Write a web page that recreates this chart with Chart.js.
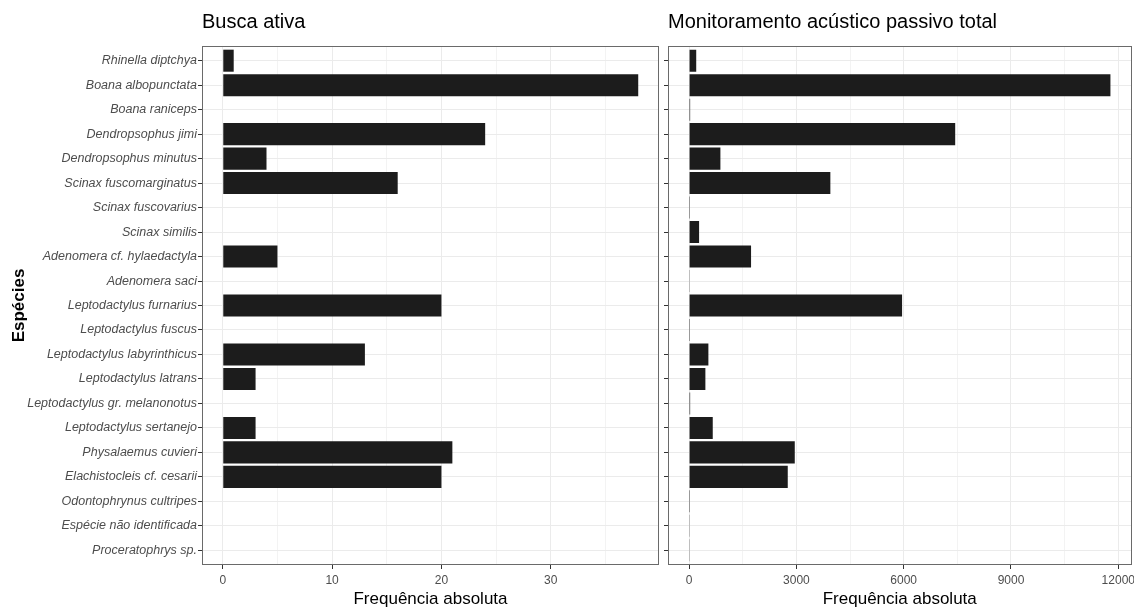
<!DOCTYPE html>
<html>
<head>
<meta charset="utf-8">
<script src="https://cdn.jsdelivr.net/npm/chart.js@4/dist/chart.umd.min.js"></script>
<style>
  html, body { margin: 0; padding: 0; background: #ffffff; }
  #wrap { position: relative; width: 1134px; height: 610px; overflow: hidden; }
  canvas { position: absolute; top: 0; }
  #busca { left: 0; }
  #pam { left: 660px; }
</style>
</head>
<body>
<div id="wrap">
  <canvas id="busca" width="660" height="610"></canvas>
  <canvas id="pam" width="474" height="610"></canvas>
</div>
<script>
// Species, top to bottom
const especies = [
  'Rhinella diptchya',
  'Boana albopunctata',
  'Boana raniceps',
  'Dendropsophus jimi',
  'Dendropsophus minutus',
  'Scinax fuscomarginatus',
  'Scinax fuscovarius',
  'Scinax similis',
  'Adenomera cf. hylaedactyla',
  'Adenomera saci',
  'Leptodactylus furnarius',
  'Leptodactylus fuscus',
  'Leptodactylus labyrinthicus',
  'Leptodactylus latrans',
  'Leptodactylus gr. melanonotus',
  'Leptodactylus sertanejo',
  'Physalaemus cuvieri',
  'Elachistocleis cf. cesarii',
  'Odontophrynus cultripes',
  'Espécie não identificada',
  'Proceratophrys sp.'
];

// Absolute frequency, active search
const buscaAtiva = [1, 38, 0, 24, 4, 16, 0, 0, 5, 0, 20, 0, 13, 3, 0, 3, 21, 20, 0, 0, 0];

// Absolute frequency, total passive acoustic monitoring
const monitoramentoPassivo = [200, 11780, 30, 7440, 876, 3950, 25, 280, 1733, 20, 5955, 25, 540, 456, 30, 662, 2955, 2759, 25, 20, 20];

// Axis ticks: minor step and labelled (major) step
const ticksBusca = [5, 10];
const ticksPassivo = [1500, 3000];

const FONT = "'Liberation Sans', Arial, Helvetica, sans-serif";

// Category axis with a 0.6-band margin at both ends instead of 0.5
class PaddedCategoryScale extends Chart.CategoryScale {
  buildTicks() {
    const ticks = super.buildTicks();
    this._startValue -= 0.1;
    this._valueRange += 0.2;
    return ticks;
  }
}
PaddedCategoryScale.id = 'paddedCategory';
PaddedCategoryScale.defaults = Chart.CategoryScale.defaults;
Chart.register(PaddedCategoryScale);

// Expand the value range by 5% on each side
function expanded(values) {
  const lo = Math.min(0, ...values);
  const hi = Math.max(...values);
  const pad = (hi - lo) * 0.05;
  return [lo - pad, hi + pad];
}

const panelBorder = {
  id: 'panelBorder',
  afterDraw(chart) {
    const a = chart.chartArea;
    const ctx = chart.ctx;
    ctx.save();
    ctx.strokeStyle = '#6a6a6a';
    ctx.lineWidth = 1;
    ctx.strokeRect(Math.round(a.left) + 0.5, Math.round(a.top) + 0.5,
                   Math.round(a.right - a.left) - 1, Math.round(a.bottom - a.top) - 1);
    ctx.restore();
  }
};

function panel(canvasId, title, values, steps, withLabels, yWidth, padRight) {
  const [minX, maxX] = expanded(values);
  const [minor, major] = steps;
  const isMajor = v => Math.abs(v % major) < 1e-6;
  return new Chart(document.getElementById(canvasId), {
    type: 'bar',
    data: {
      labels: especies,
      datasets: [{
        data: values,
        backgroundColor: '#1c1c1c',
        borderWidth: 0,
        categoryPercentage: 0.9,
        barPercentage: 1.0
      }]
    },
    options: {
      indexAxis: 'y',
      responsive: false,
      animation: false,
      layout: { padding: { left: 0, right: padRight, top: 0, bottom: 0 } },
      plugins: {
        legend: { display: false },
        tooltip: { enabled: false },
        title: {
          display: true,
          text: title,
          align: 'start',
          fullSize: false,
          color: '#000000',
          font: { family: FONT, size: 20, weight: 'normal' },
          padding: { top: 10, bottom: 12 }
        }
      },
      scales: {
        x: {
          type: 'linear',
          min: minX,
          max: maxX,
          border: { display: false },
          grid: {
            color: ctx => (ctx.tick && isMajor(ctx.tick.value)) ? '#ebebeb' : '#f3f3f3',
            tickColor: ctx => (ctx.tick && isMajor(ctx.tick.value)) ? '#333333' : 'rgba(0,0,0,0)',
            tickLength: 4,
            drawTicks: true
          },
          afterBuildTicks(s) {
            const ticks = [];
            for (let v = Math.ceil(s.min / minor) * minor; v <= s.max; v += minor) {
              ticks.push({ value: v });
            }
            s.ticks = ticks;
          },
          ticks: {
            autoSkip: false,
            maxRotation: 0,
            color: '#4d4d4d',
            padding: 4,
            font: { family: FONT, size: 12 },
            callback: v => isMajor(v) ? String(Math.round(v)) : ''
          },
          title: {
            display: true,
            text: 'Frequência absoluta',
            color: '#000000',
            font: { family: FONT, size: 17 },
            padding: { top: 2, bottom: 0 }
          },
          afterFit(s) {
            s.height = 45;
            s.paddingLeft = 0;
            s.paddingRight = 0;
          }
        },
        y: {
          type: 'paddedCategory',
          offset: true,
          border: { display: false },
          grid: {
            offset: false,
            color: '#ebebeb',
            tickColor: '#333333',
            tickLength: 4,
            drawTicks: true
          },
          ticks: {
            display: withLabels,
            autoSkip: false,
            color: '#4d4d4d',
            padding: 1,
            font: { family: FONT, size: 12.5, style: 'italic' }
          },
          title: {
            display: withLabels,
            text: 'Espécies',
            color: '#000000',
            font: { family: FONT, size: 17, weight: 'bold' },
            padding: { top: 9, bottom: 0 }
          },
          afterFit(s) {
            s.width = yWidth;
            s.paddingTop = 0;
            s.paddingBottom = 0;
          }
        }
      }
    },
    plugins: [panelBorder]
  });
}

panel('busca', 'Busca ativa', buscaAtiva, ticksBusca, true, 202, 1);
panel('pam', 'Monitoramento acústico passivo total', monitoramentoPassivo, ticksPassivo, false, 8, 2.5);
</script>
</body>
</html>
